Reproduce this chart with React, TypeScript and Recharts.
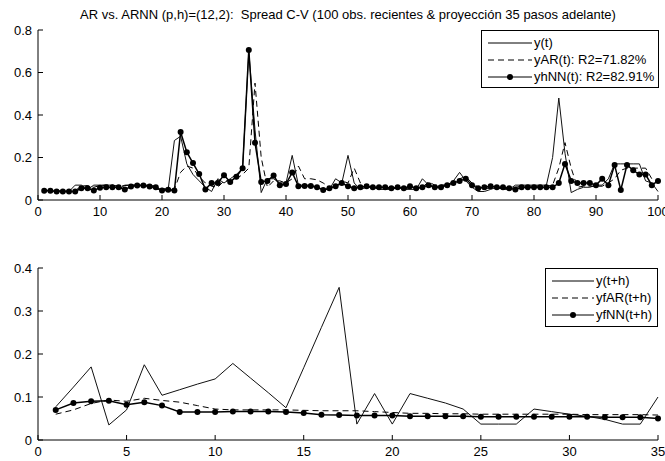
import { LineChart, Line, XAxis, YAxis, Legend } from "recharts";

const FONT = "'Liberation Sans', Arial, Helvetica, sans-serif";

// in-sample window: last 100 observations
const obsIdx = Array.from({ length: 100 }, (_, i) => i + 1);

const yObs = [
  0.045, 0.045, 0.04, 0.04, 0.04, 0.07, 0.07, 0.05, 0.07, 0.07,
  0.07, 0.07, 0.05, 0.07, 0.07, 0.07, 0.07, 0.065, 0.05, 0.05,
  0.05, 0.28, 0.3, 0.17, 0.12, 0.09, 0.06, 0.04, 0.1, 0.08,
  0.1, 0.12, 0.15, 0.7, 0.33, 0.035, 0.1, 0.1, 0.08, 0.08,
  0.21, 0.07, 0.07, 0.07, 0.06, 0.05, 0.05, 0.1, 0.08, 0.21,
  0.08, 0.05, 0.06, 0.06, 0.05, 0.05, 0.05, 0.06, 0.05, 0.05,
  0.05, 0.1, 0.07, 0.06, 0.07, 0.07, 0.09, 0.13, 0.09, 0.06,
  0.04, 0.04, 0.05, 0.06, 0.05, 0.05, 0.07, 0.07, 0.07, 0.07,
  0.07, 0.07, 0.2, 0.48, 0.22, 0.035, 0.05, 0.06, 0.06, 0.07,
  0.07, 0.1, 0.17, 0.17, 0.17, 0.17, 0.17, 0.09, 0.08, 0.04,
];

const yAR = [
  0.045, 0.045, 0.045, 0.042, 0.042, 0.045, 0.065, 0.068, 0.06, 0.068,
  0.07, 0.07, 0.065, 0.068, 0.07, 0.07, 0.07, 0.07, 0.065, 0.055,
  0.05, 0.05, 0.13, 0.16, 0.15, 0.11, 0.08, 0.065, 0.06, 0.09,
  0.09, 0.1, 0.12, 0.15, 0.55, 0.2, 0.06, 0.09, 0.09, 0.08,
  0.1, 0.16, 0.1, 0.1, 0.095, 0.08, 0.06, 0.06, 0.09, 0.08,
  0.15, 0.08, 0.065, 0.06, 0.055, 0.055, 0.055, 0.055, 0.055, 0.055,
  0.055, 0.06, 0.085, 0.07, 0.07, 0.07, 0.08, 0.1, 0.11, 0.08,
  0.06, 0.055, 0.055, 0.055, 0.055, 0.055, 0.06, 0.065, 0.065, 0.065,
  0.065, 0.065, 0.07, 0.15, 0.27, 0.15, 0.06, 0.065, 0.065, 0.065,
  0.065, 0.08, 0.1, 0.14, 0.15, 0.15, 0.15, 0.15, 0.1, 0.08,
];

const yhNN = [
  0.043, 0.043, 0.04, 0.04, 0.04, 0.04, 0.055, 0.055, 0.045, 0.058,
  0.06, 0.06, 0.06, 0.05, 0.063, 0.068, 0.068, 0.063, 0.06, 0.045,
  0.048, 0.045, 0.32, 0.225, 0.174, 0.122, 0.05, 0.08, 0.08, 0.117,
  0.085, 0.11, 0.15, 0.706, 0.27, 0.085, 0.09, 0.115, 0.07, 0.075,
  0.13, 0.065, 0.066, 0.066, 0.06, 0.047, 0.055, 0.065, 0.08, 0.065,
  0.055, 0.06, 0.065, 0.06, 0.06, 0.06, 0.055, 0.06, 0.055, 0.065,
  0.055, 0.06, 0.07, 0.06, 0.06, 0.07, 0.08, 0.09, 0.1, 0.07,
  0.055, 0.06, 0.065, 0.06, 0.06, 0.055, 0.05, 0.06, 0.06, 0.06,
  0.06, 0.06, 0.06, 0.08, 0.17, 0.09, 0.08, 0.08, 0.08, 0.07,
  0.1, 0.07, 0.165, 0.047, 0.165, 0.14, 0.12, 0.12, 0.07, 0.09,
];

// out-of-sample: 35 steps ahead
const stepIdx = Array.from({ length: 35 }, (_, i) => i + 1);

const yFut = [
  0.077, 0.123, 0.17, 0.035, 0.07, 0.175, 0.104, 0.117, 0.13, 0.142,
  0.178, 0.144, 0.11, 0.075, 0.168, 0.262, 0.355, 0.037, 0.108, 0.037,
  0.108, 0.097, 0.086, 0.072, 0.037, 0.037, 0.037, 0.072, 0.066, 0.06,
  0.055, 0.048, 0.037, 0.037, 0.1,
];

const yfAR = [
  0.06, 0.07, 0.085, 0.093, 0.09, 0.097, 0.092, 0.088, 0.08, 0.072,
  0.07, 0.07, 0.07, 0.07, 0.069, 0.068, 0.068, 0.068, 0.066, 0.064,
  0.062, 0.062, 0.061, 0.061, 0.06, 0.06, 0.06, 0.06, 0.06, 0.06,
  0.059, 0.059, 0.059, 0.059, 0.058,
];

const yfNN = [
  0.07, 0.086, 0.09, 0.091, 0.082, 0.088, 0.08, 0.065, 0.065, 0.065,
  0.066, 0.066, 0.066, 0.065, 0.063, 0.059, 0.058, 0.057, 0.057, 0.057,
  0.055, 0.055, 0.055, 0.055, 0.054, 0.054, 0.054, 0.054, 0.054, 0.054,
  0.054, 0.053, 0.053, 0.053, 0.05,
];

const xTicksTop = [0, 10, 20, 30, 40, 50, 60, 70, 80, 90, 100];
const yTicksTop = [0, 0.2, 0.4, 0.6, 0.8];
const xTicksBot = [0, 5, 10, 15, 20, 25, 30, 35];
const yTicksBot = [0, 0.1, 0.2, 0.3, 0.4];

const topRows = obsIdx.map((t, i) => ({ t, y: yObs[i], ar: yAR[i], nn: yhNN[i] }));
const botRows = stepIdx.map((t, i) => ({ t, y: yFut[i], ar: yfAR[i], nn: yfNN[i] }));

const legendTop = [
  { name: "y(t)", dash: undefined, dot: false },
  { name: "yAR(t): R2=71.82%", dash: "6 4", dot: false },
  { name: "yhNN(t): R2=82.91%", dash: undefined, dot: true },
];
const legendBot = [
  { name: "y(t+h)", dash: undefined, dot: false },
  { name: "yfAR(t+h)", dash: "6 4", dot: false },
  { name: "yfNN(t+h)", dash: undefined, dot: true },
];

const tickStyle = { fill: "#000", fontSize: 13, fontFamily: FONT };
const ax = { stroke: "#000" };

type Item = { name: string; dash?: string; dot: boolean };

function legendBox(items: Item[], w: number, h: number, lineW: number) {
  return () => (
    <div
      style={{
        width: w,
        height: h,
        boxSizing: "border-box",
        border: "1px solid #000",
        background: "#fff",
        padding: "3px 0 0 6px",
        fontFamily: FONT,
        fontSize: 13,
        color: "#000",
      }}
    >
      {items.map((it) => (
        <div key={it.name} style={{ display: "flex", alignItems: "center", height: 17 }}>
          <svg width={lineW} height={10} style={{ marginRight: 2 }}>
            <line x1={0} y1={5} x2={lineW} y2={5} stroke="#000" strokeWidth={1} strokeDasharray={it.dash} />
            {it.dot && <circle cx={lineW / 2} cy={5} r={3} fill="#000" />}
          </svg>
          <span>{it.name}</span>
        </div>
      ))}
    </div>
  );
}

function Panel(props: {
  rows: any[];
  height: number;
  marginTop: number;
  marginBottom: number;
  xTicks: number[];
  yTicks: number[];
  xMax: number;
  yMax: number;
  legend: () => JSX.Element;
  legendLeft: number;
}) {
  const { rows, height, marginTop, marginBottom, xTicks, yTicks, xMax, yMax } = props;
  return (
    <LineChart
      width={665}
      height={height}
      data={rows}
      margin={{ top: marginTop, right: 7, left: 0, bottom: marginBottom }}
    >
      <XAxis
        dataKey="t"
        type="number"
        domain={[0, xMax]}
        ticks={xTicks}
        interval={0}
        height={20}
        tickSize={-5}
        tickMargin={12}
        axisLine={ax}
        tickLine={ax}
        tick={tickStyle}
      />
      <XAxis
        xAxisId="top"
        orientation="top"
        dataKey="t"
        type="number"
        domain={[0, xMax]}
        ticks={xTicks}
        interval={0}
        height={0}
        tickSize={-5}
        axisLine={ax}
        tickLine={ax}
        tick={false}
      />
      <YAxis
        type="number"
        domain={[0, yMax]}
        ticks={yTicks}
        interval={0}
        width={38}
        tickSize={-5}
        tickMargin={11}
        axisLine={ax}
        tickLine={ax}
        tick={tickStyle}
      />
      <YAxis
        yAxisId="right"
        orientation="right"
        type="number"
        domain={[0, yMax]}
        ticks={yTicks}
        interval={0}
        width={0}
        tickSize={-5}
        axisLine={ax}
        tickLine={ax}
        tick={false}
      />
      <Legend
        layout="horizontal"
        align="center"
        verticalAlign="middle"
        content={props.legend}
        wrapperStyle={{ left: props.legendLeft, top: marginTop, width: "auto", height: "auto" }}
      />
      <Line
        dataKey="y"
        stroke="#111"
        strokeWidth={1}
        dot={false}
        isAnimationActive={false}
      />
      <Line
        dataKey="ar"
        stroke="#000"
        strokeWidth={1}
        strokeDasharray="6 4"
        dot={false}
        isAnimationActive={false}
      />
      <Line
        dataKey="nn"
        stroke="#000"
        strokeWidth={1.5}
        dot={{ r: 3, fill: "#000", stroke: "#000", strokeWidth: 0 }}
        isAnimationActive={false}
      />
    </LineChart>
  );
}

export default function App() {
  return (
    <div
      style={{
        position: "absolute",
        left: 0,
        top: 0,
        width: 665,
        height: 461,
        background: "#fff",
        overflow: "hidden",
      }}
    >
      <div
        style={{
          position: "absolute",
          left: 38,
          top: 7,
          width: 620,
          textAlign: "center",
          fontFamily: FONT,
          fontSize: 13,
          whiteSpace: "nowrap",
          color: "#000",
        }}
      >
        AR vs. ARNN (p,h)=(12,2):&nbsp; Spread C-V (100 obs. recientes &amp; proyección 35 pasos adelante)
      </div>
      <div style={{ position: "absolute", left: 0, top: 0 }}>
        <Panel
          rows={topRows}
          height={230}
          marginTop={30}
          marginBottom={10}
          xTicks={xTicksTop}
          yTicks={yTicksTop}
          xMax={100}
          yMax={0.8}
          legend={legendBox(legendTop, 178, 58, 44)}
          legendLeft={481}
        />
      </div>
      <div style={{ position: "absolute", left: 0, top: 230 }}>
        <Panel
          rows={botRows}
          height={231}
          marginTop={38}
          marginBottom={1}
          xTicks={xTicksBot}
          yTicks={yTicksBot}
          xMax={35}
          yMax={0.4}
          legend={legendBox(legendBot, 113, 59, 42)}
          legendLeft={545}
        />
      </div>
    </div>
  );
}
